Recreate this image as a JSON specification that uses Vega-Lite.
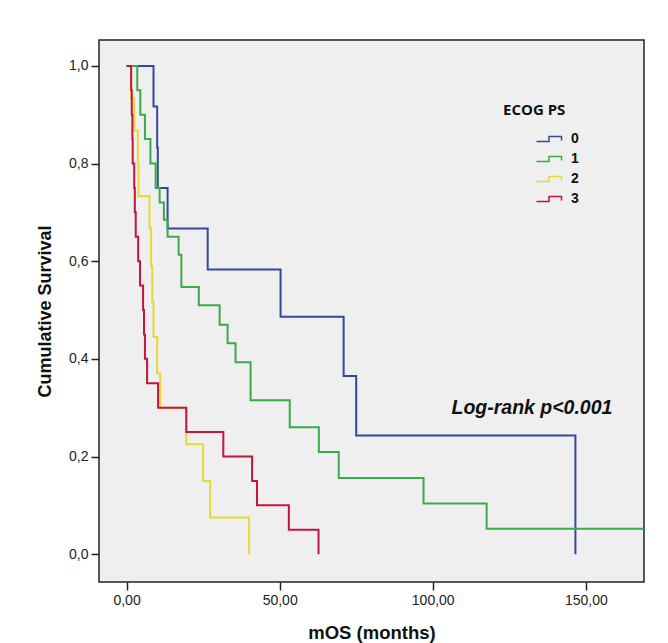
{
  "$schema": "https://vega.github.io/schema/vega-lite/v6.json",
  "width": 545,
  "height": 542,
  "autosize": "none",
  "padding": {"left": 99, "top": 40, "right": 24, "bottom": 61},
  "background": "white",
  "config": {
    "view": {"fill": "#efefef", "stroke": "#222222", "strokeWidth": 1.5},
    "axis": {
      "labelFont": "Liberation Sans", "labelFontSize": 14, "labelColor": "#222222",
      "titleFont": "Liberation Sans", "titleColor": "#111111",
      "tickColor": "#222222", "tickWidth": 1.5, "tickSize": 8,
      "grid": false, "domain": false
    }
  },
  "datasets": {
    "km": [
      {"ecog": "0", "t": 0, "s": 1},
      {"ecog": "0", "t": 8.8, "s": 0.917},
      {"ecog": "0", "t": 10.0, "s": 0.833},
      {"ecog": "0", "t": 10.2, "s": 0.75},
      {"ecog": "0", "t": 13.4, "s": 0.667},
      {"ecog": "0", "t": 26.5, "s": 0.583},
      {"ecog": "0", "t": 50.3, "s": 0.486},
      {"ecog": "0", "t": 70.9, "s": 0.365},
      {"ecog": "0", "t": 75.0, "s": 0.243},
      {"ecog": "0", "t": 146.6, "s": 0},
      {"ecog": "1", "t": 0, "s": 1},
      {"ecog": "1", "t": 3.5, "s": 0.95},
      {"ecog": "1", "t": 4.5, "s": 0.9},
      {"ecog": "1", "t": 6.0, "s": 0.85},
      {"ecog": "1", "t": 7.8, "s": 0.8},
      {"ecog": "1", "t": 9.5, "s": 0.75},
      {"ecog": "1", "t": 10.8, "s": 0.72},
      {"ecog": "1", "t": 12.2, "s": 0.685},
      {"ecog": "1", "t": 13.4, "s": 0.65},
      {"ecog": "1", "t": 17.0, "s": 0.613},
      {"ecog": "1", "t": 17.9, "s": 0.547},
      {"ecog": "1", "t": 23.6, "s": 0.51},
      {"ecog": "1", "t": 30.4, "s": 0.47},
      {"ecog": "1", "t": 33.0, "s": 0.432},
      {"ecog": "1", "t": 35.6, "s": 0.393},
      {"ecog": "1", "t": 40.5, "s": 0.315},
      {"ecog": "1", "t": 53.3, "s": 0.26},
      {"ecog": "1", "t": 62.8, "s": 0.209},
      {"ecog": "1", "t": 69.3, "s": 0.156},
      {"ecog": "1", "t": 97.0, "s": 0.104},
      {"ecog": "1", "t": 117.6, "s": 0.052},
      {"ecog": "1", "t": 170, "s": 0.052},
      {"ecog": "2", "t": 0, "s": 1},
      {"ecog": "2", "t": 1.5, "s": 0.933},
      {"ecog": "2", "t": 2.5, "s": 0.867},
      {"ecog": "2", "t": 3.7, "s": 0.8},
      {"ecog": "2", "t": 3.9, "s": 0.733},
      {"ecog": "2", "t": 7.5, "s": 0.667},
      {"ecog": "2", "t": 8.0, "s": 0.59},
      {"ecog": "2", "t": 8.4, "s": 0.516},
      {"ecog": "2", "t": 8.8, "s": 0.445},
      {"ecog": "2", "t": 10.0, "s": 0.37},
      {"ecog": "2", "t": 11.0, "s": 0.3},
      {"ecog": "2", "t": 19.5, "s": 0.225},
      {"ecog": "2", "t": 25.0, "s": 0.15},
      {"ecog": "2", "t": 27.3, "s": 0.075},
      {"ecog": "2", "t": 40.0, "s": 0},
      {"ecog": "3", "t": 0, "s": 1},
      {"ecog": "3", "t": 1.5, "s": 0.95},
      {"ecog": "3", "t": 1.7, "s": 0.9},
      {"ecog": "3", "t": 1.9, "s": 0.85},
      {"ecog": "3", "t": 2.0, "s": 0.8},
      {"ecog": "3", "t": 2.5, "s": 0.75},
      {"ecog": "3", "t": 2.7, "s": 0.7},
      {"ecog": "3", "t": 3.0, "s": 0.65},
      {"ecog": "3", "t": 3.8, "s": 0.6},
      {"ecog": "3", "t": 4.4, "s": 0.55},
      {"ecog": "3", "t": 5.4, "s": 0.5},
      {"ecog": "3", "t": 5.7, "s": 0.45},
      {"ecog": "3", "t": 6.0, "s": 0.4},
      {"ecog": "3", "t": 6.7, "s": 0.35},
      {"ecog": "3", "t": 10.3, "s": 0.3},
      {"ecog": "3", "t": 19.5, "s": 0.25},
      {"ecog": "3", "t": 31.6, "s": 0.2},
      {"ecog": "3", "t": 41.0, "s": 0.15},
      {"ecog": "3", "t": 42.6, "s": 0.1},
      {"ecog": "3", "t": 53.0, "s": 0.05},
      {"ecog": "3", "t": 62.7, "s": 0}
    ],
    "note": [
      {"label": "Log-rank p<0.001"}
    ]
  },
  "layer": [
    {
      "data": {"name": "km"},
      "mark": {"type": "line", "interpolate": "step-after", "strokeWidth": 2, "clip": true},
      "encoding": {
        "x": {
          "field": "t", "type": "quantitative",
          "scale": {"domain": [-9, 169], "nice": false, "zero": false},
          "axis": {
            "values": [0, 50, 100, 150],
            "labelExpr": "replace(format(datum.value, '.2f'), '.', ',')",
            "labelPadding": 3,
            "title": "mOS (months)", "titleFontSize": 18.5, "titleFontWeight": "bold",
            "titleY": 50, "titleBaseline": "middle"
          }
        },
        "y": {
          "field": "s", "type": "quantitative",
          "scale": {"domain": [-0.057, 1.053], "nice": false, "zero": false},
          "axis": {
            "values": [0, 0.2, 0.4, 0.6, 0.8, 1],
            "labelExpr": "replace(format(datum.value, '.1f'), '.', ',')",
            "labelPadding": 3,
            "title": "Cumulative Survival", "titleFontSize": 18, "titleFontWeight": "bold",
            "titleX": -54, "titleY": 271, "titleBaseline": "middle"
          }
        },
        "color": {
          "field": "ecog", "type": "nominal",
          "scale": {"domain": ["0", "1", "2", "3"], "range": ["#34499e", "#3aab4a", "#e8d834", "#c4153c"]},
          "legend": {
            "orient": "none", "legendX": 404, "legendY": 63,
            "title": "ECOG PS", "titleFont": "Open Sans", "titleFontSize": 15, "titleFontWeight": "bold",
            "titleColor": "#111111", "titlePadding": 14,
            "symbolType": "M-2.7,0.5H-0.2V-0.5H2.3V0.3", "symbolSize": 100, "symbolStrokeWidth": 1.5,
            "symbolFillColor": "transparent", "symbolOffset": 40, "labelOffset": 14,
            "labelFont": "Liberation Sans", "labelFontSize": 14, "labelFontWeight": "bold", "labelColor": "#111111",
            "rowPadding": 6
          }
        }
      }
    },
    {
      "data": {"name": "note"},
      "mark": {"type": "text", "font": "Liberation Sans", "fontSize": 19.5, "fontStyle": "italic", "fontWeight": "bold", "color": "#111111"},
      "encoding": {"x": {"datum": 132.4}, "y": {"datum": 0.299}, "text": {"field": "label", "type": "nominal"}}
    }
  ]
}
